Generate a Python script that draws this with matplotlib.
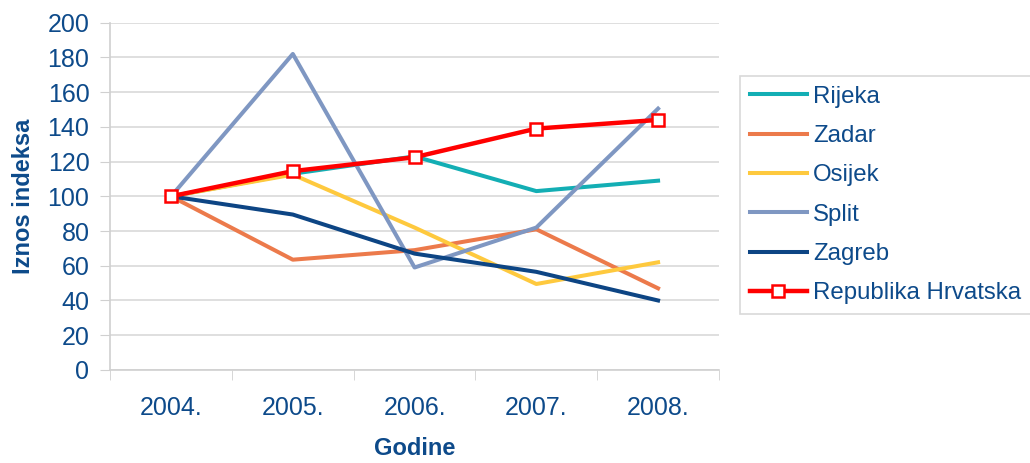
import matplotlib.pyplot as plt
import numpy as np

plt.rcParams['font.family'] = ['Liberation Sans', 'DejaVu Sans']

# index values per city, 2004 = 100
godine = ['2004.', '2005.', '2006.', '2007.', '2008.']
rijeka = [100, 113, 123, 103, 109]
zadar = [100, 63.5, 69, 81, 47]
osijek = [100, 112.5, 82, 49.5, 62]
split = [100, 182, 59, 82, 150.5]
zagreb = [100, 89.5, 67, 56.5, 40]
hrvatska = [100, 114.5, 122.5, 139, 144]

txt = '#0D4A8A'
x = np.arange(len(godine))

fig = plt.figure(figsize=(10.3, 4.63), dpi=100)
ax = fig.add_axes([0.107, 0.201, 0.591, 0.750])

ax.plot(x, rijeka, color='#13AEB4', lw=2.9, label='Rijeka')
ax.plot(x, zadar, color='#EC7A4B', lw=2.9, label='Zadar')
ax.plot(x, osijek, color='#FEC93E', lw=2.9, label='Osijek')
ax.plot(x, split, color='#7F97C2', lw=2.9, label='Split')
ax.plot(x, zagreb, color='#0D4584', lw=2.9, label='Zagreb')
ax.plot(x, hrvatska, color='#FF0000', lw=3.2, marker='s', ms=9,
        mfc='white', mec='#FF0000', mew=1.8, label='Republika Hrvatska')

ax.set_xlim(-0.5, 4.5)
ax.set_ylim(0, 200)
ax.set_yticks(range(0, 201, 20))
ax.set_xticks(x)
ax.set_xticklabels(godine)
ax.set_xticks(np.arange(-0.5, 4.6, 1), minor=True)
ax.tick_params(axis='x', which='major', length=0, pad=19, labelsize=18, labelcolor=txt)
ax.tick_params(axis='x', which='minor', length=7, color='#D0D0D0', direction='out')
ax.tick_params(axis='y', length=7, color='#D0D0D0', labelsize=18, labelcolor=txt, pad=8)

ax.grid(axis='y', color='#D9D9D9', lw=1.2)
ax.set_axisbelow(True)
for s in ['top', 'right']:
    ax.spines[s].set_visible(False)
for s in ['left', 'bottom']:
    ax.spines[s].set_color('#D0D0D0')
    ax.spines[s].set_linewidth(1.2)

ax.set_ylabel('Iznos indeksa', fontsize=17, fontweight='bold', color=txt, labelpad=9)
ax.set_xlabel('Godine', fontsize=17, fontweight='bold', color=txt, labelpad=12)

leg = ax.legend(loc='center left', bbox_to_anchor=(740 / 1030, 1 - 195 / 463),
                bbox_transform=fig.transFigure, borderaxespad=0, fontsize=17.3,
                handlelength=2.4, handletextpad=0.25, labelspacing=0.72,
                frameon=True, fancybox=False, edgecolor='#D0D0D0',
                borderpad=0.4)
leg.get_frame().set_linewidth(1.2)
for t in leg.get_texts():
    t.set_color(txt)

fig.savefig('out.png', dpi=100)
